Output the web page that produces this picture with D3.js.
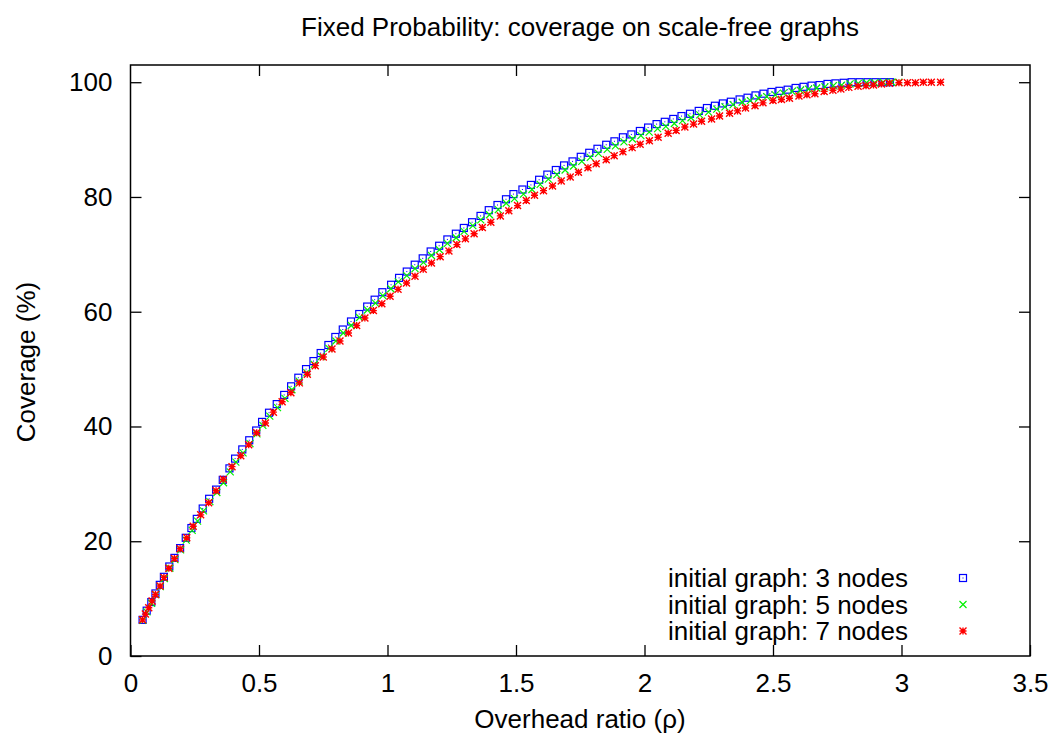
<!DOCTYPE html>
<html>
<head>
<meta charset="utf-8">
<script src="https://cdn.jsdelivr.net/npm/d3@7"></script>
<style>
  html, body { margin: 0; padding: 0; background: #fff; }
  svg { display: block; }
  text { font-family: "Liberation Sans", Arial, Helvetica, sans-serif; fill: #000; }
</style>
</head>
<body>
<svg id="chart" width="1058" height="740"></svg>
<script>
// Overhead ratio (x) and coverage in % (y) for each initial graph size
const overhead3 = [0.047,0.063,0.081,0.097,0.114,0.130,0.151,0.171,0.193,0.215,0.237,0.258,0.281,0.306,0.333,0.359,
  0.385,0.407,0.435,0.462,0.489,0.512,0.539,0.569,0.598,0.625,0.653,0.683,0.712,0.740,0.770,0.797,
  0.826,0.858,0.890,0.921,0.950,0.980,1.014,1.045,1.075,1.106,1.137,1.168,1.201,1.233,1.266,1.297,1.329,1.362,1.394,1.428,1.461,
  1.490,1.525,1.558,1.590,1.622,1.655,1.687,1.720,1.752,1.785,1.817,1.851,1.883,1.916,1.949,1.982,2.014,2.047,2.079,2.112,2.144,2.177,2.211,
  2.243,2.274,2.305,2.336,2.370,2.401,2.432,2.463,2.494,2.525,2.557,2.588,2.619,2.650,2.681,2.712,2.743,2.775,2.806,2.837,2.868,2.899,2.930,2.955];
const coverage3 = [6.3,7.9,9.4,10.9,12.4,13.8,15.6,17.1,18.8,20.6,22.3,23.9,25.7,27.4,29.0,30.7,
  32.7,34.4,36.0,37.6,39.3,40.8,42.4,43.9,45.5,47.0,48.5,50.0,51.4,52.8,54.2,55.6,
  56.9,58.3,59.6,60.9,62.1,63.4,64.7,65.9,67.0,68.2,69.3,70.5,71.5,72.6,73.6,74.6,75.6,76.7,77.7,78.6,79.6,
  80.5,81.3,82.1,83.0,83.9,84.7,85.5,86.2,87.0,87.7,88.4,89.1,89.7,90.4,90.9,91.5,92.1,92.7,93.1,93.6,94.1,94.5,95.0,
  95.5,95.9,96.3,96.6,97.0,97.3,97.7,98.0,98.3,98.5,98.7,99.0,99.2,99.4,99.5,99.7,99.8,99.9,100,100,100,100,100,100];

const overhead5 = [0.048,0.064,0.082,0.099,0.116,0.132,0.153,0.173,0.195,0.217,0.240,0.261,0.284,0.309,0.336,0.362,
  0.388,0.410,0.438,0.465,0.492,0.515,0.542,0.572,0.601,0.628,0.656,0.686,0.715,0.743,0.772,0.799,
  0.828,0.859,0.891,0.922,0.953,0.982,1.013,1.042,1.075,1.107,1.140,1.171,1.202,1.233,1.267,1.298,1.332,1.363,1.397,1.431,1.462,
  1.494,1.529,1.562,1.594,1.626,1.659,1.691,1.724,1.756,1.789,1.821,1.855,1.887,1.920,1.953,1.986,2.018,2.051,2.083,2.116,2.148,2.181,2.215,
  2.249,2.281,2.313,2.345,2.380,2.412,2.444,2.476,2.509,2.541,2.574,2.606,2.638,2.670,2.702,2.735,2.767,2.800,2.832,2.864,2.896,2.929,2.962,2.990];
const coverage5 = [6.2,7.7,9.2,10.7,12.1,13.5,15.3,16.8,18.5,20.2,21.9,23.5,25.3,26.9,28.5,30.2,
  32.1,33.8,35.4,37.0,38.7,40.2,41.8,43.3,44.9,46.4,47.9,49.4,50.8,52.2,53.6,54.9,
  56.3,57.6,59.0,60.3,61.5,62.8,64.0,65.2,66.3,67.5,68.6,69.8,70.8,71.9,72.9,74.0,75.0,76.0,76.9,77.8,78.9,
  79.7,80.5,81.3,82.2,83.1,83.9,84.7,85.4,86.2,86.9,87.6,88.3,88.9,89.6,90.1,90.7,91.3,91.9,92.3,92.8,93.3,93.8,94.3,
  94.8,95.3,95.7,96.1,96.5,96.8,97.2,97.5,97.8,98.1,98.4,98.6,98.8,99.0,99.2,99.4,99.5,99.7,99.8,99.9,99.9,100,100,100];

const overhead7 = [0.047,0.058,0.071,0.084,0.097,0.115,0.130,0.149,0.171,0.193,0.219,0.244,0.273,0.304,0.333,0.361,
  0.395,0.429,0.460,0.491,0.525,0.556,0.590,0.624,0.657,0.688,0.719,0.750,0.784,0.815,
  0.848,0.880,0.912,0.945,0.978,1.010,1.041,1.074,1.107,1.139,1.171,1.205,1.239,1.270,1.303,1.337,1.369,1.402,1.439,1.472,
  1.506,1.540,1.572,1.607,1.642,1.676,1.711,1.743,1.780,1.812,1.851,1.882,1.916,1.952,1.983,2.019,2.053,2.092,2.123,2.157,
  2.191,2.222,2.261,2.292,2.331,2.362,2.393,2.430,2.461,2.500,2.533,2.564,2.601,2.632,2.663,2.699,2.733,2.764,2.795,2.831,
  2.862,2.891,2.922,2.953,2.990,3.023,3.054,3.085,3.116,3.152];
const coverage7 = [6.3,7.3,8.4,9.6,10.7,12.2,13.7,15.3,17.0,18.7,20.6,22.6,24.6,26.7,28.8,30.8,
  33.0,34.9,36.8,38.9,40.6,42.5,44.3,45.9,47.6,49.1,50.6,52.1,53.5,54.9,
  56.3,57.6,58.9,60.2,61.4,62.7,63.9,65.0,66.2,67.4,68.5,69.6,70.6,71.7,72.7,73.6,74.7,75.6,76.7,77.6,
  78.5,79.4,80.3,81.1,81.9,82.8,83.5,84.3,85.1,85.8,86.5,87.2,87.9,88.6,89.2,89.8,90.4,91.1,91.6,92.2,
  92.7,93.2,93.6,94.1,94.6,95.0,95.5,95.9,96.4,96.8,97.0,97.2,97.6,97.8,98.0,98.4,98.6,98.8,99.1,99.3,
  99.4,99.5,99.7,99.8,99.9,99.9,99.9,100,100,100];

const seriesNames = ["initial graph: 3 nodes", "initial graph: 5 nodes", "initial graph: 7 nodes"];
const xTicks = [0, 0.5, 1, 1.5, 2, 2.5, 3, 3.5];
const yTicks = [0, 20, 40, 60, 80, 100];

const titleText = "Fixed Probability: coverage on scale-free graphs";
const xLabel = "Overhead ratio (\u03c1)";
const yLabel = "Coverage (%)";

const series = [
  { name: seriesNames[0], xs: overhead3, ys: coverage3, color: "#0000ff", shape: "box" },
  { name: seriesNames[1], xs: overhead5, ys: coverage5, color: "#00f000", shape: "cross" },
  { name: seriesNames[2], xs: overhead7, ys: coverage7, color: "#ff0000", shape: "star" }
];

const svg = d3.select("#chart");
const plot = { left: 130.5, right: 1030, top: 65, bottom: 656 };

const x = d3.scaleLinear().domain([0, 3.5]).range([plot.left, plot.right]);
const y = d3.scaleLinear().domain([0, 103]).range([plot.bottom, plot.top]);

const fontSize = 26;
const tickLen = 11;

// Frame
svg.append("rect")
  .attr("x", plot.left).attr("y", plot.top)
  .attr("width", plot.right - plot.left).attr("height", plot.bottom - plot.top)
  .attr("fill", "none").attr("stroke", "#000").attr("stroke-width", 1.5);

// Axes with inward ticks, mirrored on the opposite side
const axisB = d3.axisBottom(x).tickValues(xTicks).tickSize(-tickLen).tickPadding(18)
  .tickFormat(d3.format("~g"));
const axisT = d3.axisTop(x).tickValues(xTicks.filter(d => d > 0 && d < 3.5)).tickSize(-tickLen).tickFormat("");
const axisL = d3.axisLeft(y).tickValues(yTicks).tickSize(-tickLen).tickPadding(18);
const axisR = d3.axisRight(y).tickValues(yTicks.filter(d => d > 0)).tickSize(-tickLen).tickFormat("");

function styleAxis(g) {
  g.select(".domain").remove();
  g.selectAll(".tick line").attr("stroke", "#000").attr("stroke-width", 1.3);
  g.selectAll(".tick text").attr("font-size", fontSize).attr("fill", "#000")
    .attr("font-family", "'Liberation Sans', Arial, sans-serif");
}

svg.append("g").attr("transform", `translate(0,${plot.bottom})`).call(axisB).call(styleAxis);
svg.append("g").attr("transform", `translate(0,${plot.top})`).call(axisT).call(styleAxis);
svg.append("g").attr("transform", `translate(${plot.left},0)`).call(axisL).call(styleAxis);
svg.append("g").attr("transform", `translate(${plot.right},0)`).call(axisR).call(styleAxis);

// Titles
svg.append("text").attr("x", 580).attr("y", 36).attr("text-anchor", "middle")
  .attr("font-size", fontSize).text(titleText);
svg.append("text").attr("x", 580).attr("y", 728).attr("text-anchor", "middle")
  .attr("font-size", fontSize).text(xLabel);
svg.append("text").attr("transform", `translate(35,362) rotate(-90)`)
  .attr("text-anchor", "middle").attr("font-size", fontSize).text(yLabel);

// Point symbols
function drawSymbol(g, shape, color) {
  const r = 3.5;
  if (shape === "box") {
    g.append("rect").attr("x", -r).attr("y", -r).attr("width", 2 * r).attr("height", 2 * r)
      .attr("fill", "none").attr("stroke", color).attr("stroke-width", 1.2);
    g.append("rect").attr("x", -0.5).attr("y", -0.5).attr("width", 1).attr("height", 1).attr("fill", color);
  } else if (shape === "cross") {
    g.append("path").attr("d", `M${-r},${-r}L${r},${r}M${-r},${r}L${r},${-r}`)
      .attr("stroke", color).attr("stroke-width", 1.2).attr("fill", "none");
  } else {
    const s = r;
    g.append("path").attr("d", `M${-s},${-s}L${s},${s}M${-s},${s}L${s},${-s}M${-s},0L${s},0M0,${-s}L0,${s}`)
      .attr("stroke", color).attr("stroke-width", 1.4).attr("fill", "none");
  }
}

const pointsLayer = svg.append("g");
series.forEach(s => {
  const pts = s.xs.map((v, i) => [v, s.ys[i]]);
  pointsLayer.append("g").selectAll("g").data(pts).join("g")
    .attr("transform", d => `translate(${x(d[0])},${y(d[1])})`)
    .each(function () { drawSymbol(d3.select(this), s.shape, s.color); });
});

// Legend
const legend = svg.append("g");
series.forEach((s, i) => {
  const cy = 578 + i * 26.5;
  legend.append("text").attr("x", 908).attr("y", cy + 9).attr("text-anchor", "end")
    .attr("font-size", fontSize).text(s.name);
  drawSymbol(legend.append("g").attr("transform", `translate(963,${cy})`), s.shape, s.color);
});
</script>
</body>
</html>
